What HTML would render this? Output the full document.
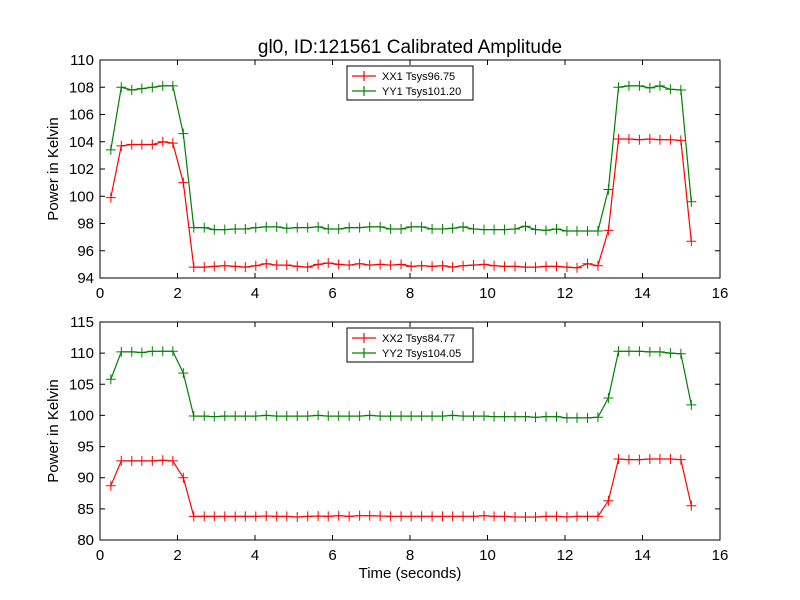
<!DOCTYPE html>
<html><head><meta charset="utf-8"><style>
body{margin:0;background:#fff;}
svg{display:block;font-family:"Liberation Sans","DejaVu Sans",sans-serif;}
</style></head><body>
<svg id="chart" width="800" height="600" viewBox="0 0 800 600" xmlns="http://www.w3.org/2000/svg">
<rect width="800" height="600" fill="#fff"/>
<text x="410" y="53" font-size="19" text-anchor="middle">gl0, ID:121561 Calibrated Amplitude</text>
<text x="410" y="578" font-size="15" text-anchor="middle">Time (seconds)</text>
<text transform="translate(58,169) rotate(-90)" font-size="15" text-anchor="middle">Power in Kelvin</text>
<text transform="translate(58,431) rotate(-90)" font-size="15" text-anchor="middle">Power in Kelvin</text>
</svg>
<script>
const times=[0.28,0.55,0.82,1.08,1.35,1.62,1.88,2.15,2.42,2.69,2.95,3.22,3.49,3.75,4.02,4.29,4.56,4.82,5.09,5.36,5.63,5.89,6.16,6.43,6.70,6.96,7.23,7.50,7.77,8.03,8.30,8.57,8.84,9.10,9.37,9.64,9.91,10.17,10.44,10.71,10.98,11.24,11.51,11.78,12.05,12.31,12.58,12.85,13.12,13.38,13.65,13.92,14.19,14.45,14.72,14.99,15.26];
const xx1=[99.9,103.7,103.8,103.8,103.8,104.0,103.9,101.0,94.8,94.8,94.85,94.9,94.85,94.8,94.9,95.05,94.95,94.95,94.85,94.8,95.0,95.1,95.0,94.95,95.05,94.95,95.0,94.95,95.0,94.85,94.9,94.85,94.9,94.8,94.9,94.95,95.0,94.9,94.85,94.85,94.8,94.8,94.85,94.85,94.8,94.75,95.05,94.9,97.5,104.2,104.2,104.15,104.2,104.15,104.15,104.1,96.7];
const yy1=[103.4,108.0,107.8,107.9,108.0,108.1,108.1,104.6,97.7,97.7,97.55,97.55,97.6,97.6,97.7,97.75,97.75,97.65,97.7,97.7,97.75,97.6,97.6,97.7,97.7,97.75,97.75,97.6,97.6,97.75,97.75,97.6,97.6,97.65,97.75,97.6,97.55,97.55,97.55,97.6,97.8,97.55,97.5,97.6,97.45,97.45,97.45,97.45,100.5,108.0,108.1,108.1,107.95,108.1,107.85,107.8,99.6];
const xx2=[88.7,92.7,92.7,92.7,92.7,92.8,92.7,90.0,83.8,83.8,83.8,83.8,83.8,83.8,83.8,83.85,83.8,83.8,83.7,83.8,83.85,83.8,83.9,83.8,83.9,83.9,83.85,83.8,83.8,83.8,83.8,83.8,83.8,83.8,83.8,83.8,83.9,83.8,83.8,83.7,83.7,83.7,83.8,83.8,83.7,83.8,83.8,83.8,86.3,93.0,92.9,92.9,93.0,93.0,93.0,92.9,85.5];
const yy2=[105.8,110.2,110.2,110.1,110.3,110.3,110.3,106.8,99.9,99.9,99.8,99.9,99.9,99.9,99.9,100.0,99.9,99.9,99.9,99.9,100.0,99.9,99.9,99.9,99.9,100.0,99.9,99.9,99.9,99.9,99.9,99.9,99.9,100.0,99.9,99.9,99.9,99.8,99.8,99.8,99.8,99.7,99.8,99.8,99.6,99.6,99.6,99.7,102.8,110.3,110.3,110.3,110.2,110.2,110.0,109.9,101.7];
const xTicks=[0,2,4,6,8,10,12,14,16];
const yTicksTop=[94,96,98,100,102,104,106,108,110];
const yTicksBot=[80,85,90,95,100,105,110,115];
const legendTop=["XX1 Tsys96.75","YY1 Tsys101.20"];
const legendBot=["XX2 Tsys84.77","YY2 Tsys104.05"];

const svg=document.getElementById('chart');
const NS='http://www.w3.org/2000/svg';
function mk(tag,attrs,parent){const e=document.createElementNS(NS,tag);for(const k in attrs)e.setAttribute(k,attrs[k]);(parent||svg).appendChild(e);return e;}

function panel(name,top,bottom,ymin,ymax,yTicks,series,legend){
  const L=100,R=720;
  const g=mk('g',{});
  
  
  const xs=t=>L+(t-0)/(16-0)*(R-L);
  const ys=v=>bottom-(v-ymin)/(ymax-ymin)*(bottom-top);
  const colors=['#ff0000','#008000'];
  series.forEach((vals,si)=>{
    const sg=mk('g',{},g);
    
    
    const pts=vals.map((v,i)=>xs(times[i]).toFixed(1)+','+ys(v).toFixed(1)).join(' ');
    const pl=mk('polyline',{points:pts,fill:'none',stroke:colors[si],'stroke-width':1.2},sg);
    
    
    vals.forEach((v,i)=>{
      const x=xs(times[i]),y=ys(v);
      const m=mk('path',{d:`M${x-5},${y}H${x+5}M${x},${y-5}V${y+5}`,stroke:colors[si],'stroke-width':1},sg);
      
      
    });
  });
  const frame=mk('rect',{x:L,y:top,width:R-L,height:bottom-top,fill:'none',stroke:'#000','stroke-width':1},g);
  
  
  xTicks.forEach(t=>{
    const x=xs(t);
    mk('path',{d:`M${x},${bottom}v-5M${x},${top}v5`,stroke:'#000'},g);
    const tx=mk('text',{x:x,y:bottom+20,'font-size':15,'text-anchor':'middle'},g);
    
    
    tx.textContent=t;
  });
  yTicks.forEach(v=>{
    const y=ys(v);
    mk('path',{d:`M${L},${y}h5M${R},${y}h-5`,stroke:'#000'},g);
    const tx=mk('text',{x:L-6,y:y+5,'font-size':15,'text-anchor':'end'},g);
    
    
    tx.textContent=v;
  });
  const lg=mk('g',{},g);
  
  
  const ly=top+6;
  mk('rect',{x:347,y:ly,width:126,height:34,fill:'#fff',stroke:'#000','stroke-width':1},lg);
  legend.forEach((lab,i)=>{
    const yy=ly+10+i*15;
    const e=mk('g',{},lg);
    
    
    mk('path',{d:`M352,${yy}h24M364,${yy-5}v10`,stroke:colors[i],'stroke-width':1.2},e);
    const t=mk('text',{x:382,y:yy+4,'font-size':11},e);
    t.textContent=lab;
  });
}
panel('top-panel',60,278,94,110,yTicksTop,[xx1,yy1],legendTop);
panel('bottom-panel',322,540,80,115,yTicksBot,[xx2,yy2],legendBot);
</script>
</body></html>
